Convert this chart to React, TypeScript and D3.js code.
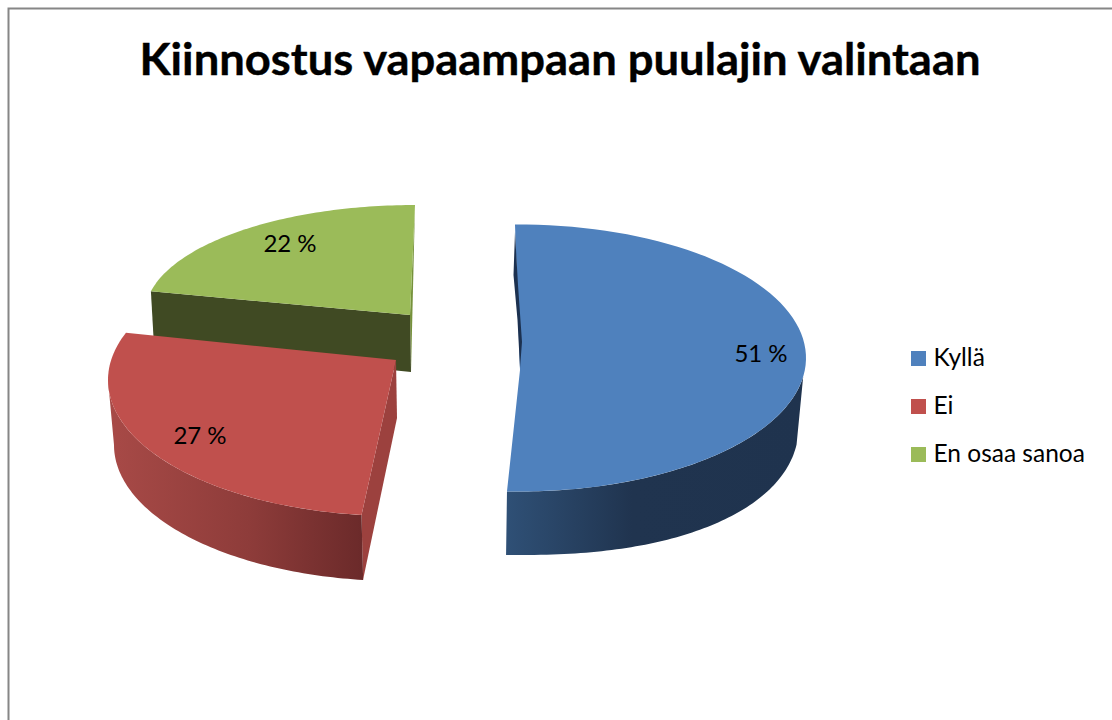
import React from "react";
import * as d3 from "d3";

const categories = ["Kyllä", "Ei", "En osaa sanoa"];
const values = [51, 27, 22];
const chartTitle = "Kiinnostus vapaampaan puulajin valintaan";
const colors = ["#4f81bd", "#c0504d", "#9bbb59"];

type Ell = { cx: number; cy: number; rx: number; ry: number; p?: number };
type Pt = [number, number];

const font = "Lato, 'Noto Sans', sans-serif";
const deg = (d: number) => (d * Math.PI) / 180;
const pow = (v: number, p: number) => Math.sign(v) * Math.pow(Math.abs(v), p);
const onEll = (e: Ell, t: number): Pt => [
  e.cx + e.rx * pow(Math.sin(t), e.p ?? 1),
  e.cy - e.ry * pow(Math.cos(t), e.p ?? 1),
];
const arcPts = (e: Ell, t0: number, t1: number): Pt[] =>
  d3.range(0, 81).map((i) => onEll(e, d3.interpolateNumber(t0, t1)(i / 80)));
const line = d3.line<Pt>().curve(d3.curveLinear);
const closed = (pts: Pt[]) => (line(pts) as string) + "Z";

const pieGen = d3.pie<number>().sort(null);
const arcs = pieGen(values);

// Each exploded wedge has its own projection onto the picture (the original is a perspective 3D pie).
const views = [
  {
    top: { cx: 519, cy: 358, rx: 287, ry: 133.5 },
    low: { cx: 522, cy: 422, rx: 277, ry: 133, p: 0.9 },
    apex: [520, 370] as Pt,
    vis: [-0.8, 182.4],
    sideFrom: 98,
    label: [761, 355] as Pt,
  },
  {
    top: { cx: 397, cy: 380, rx: 289, ry: 136 },
    low: { cx: 398, cy: 445, rx: 284, ry: 136 },
    apex: [396, 360] as Pt,
    vis: [187.05, 290.3],
    sideFrom: 270,
    label: [200, 437] as Pt,
  },
  {
    top: { cx: 415, cy: 314, rx: 270, ry: 109 },
    low: null,
    apex: [410, 315] as Pt,
    vis: [282, 360],
    sideFrom: 0,
    label: [290, 245] as Pt,
  },
];

const wedges = arcs.map((a, i) => {
  const v = views[i];
  const t = d3.scaleLinear().domain([a.startAngle, a.endAngle]).range(v.vis.map(deg));
  const t0 = t(a.startAngle);
  const t1 = t(a.endAngle);
  const pts = arcPts(v.top, t0, t1);
  const top = closed([v.apex, ...pts]);
  let side: string | null = null;
  if (v.low) {
    // side skirt runs along the near part of the rim only
    const [a0, a1] = i === 0 ? [deg(v.sideFrom), t1] : [t0, deg(v.sideFrom)];
    side = closed([...arcPts(v.top, a0, a1), ...arcPts(v.low, a1, a0)]);
  }
  return { top, side, first: pts[0], last: pts[pts.length - 1] };
});

const legendY = d3.scalePoint<string>().domain(categories).range([358.5, 454.5]);

export default function App() {
  const blueWall: Pt[] = [[515, 232], [513.5, 275], [517.5, 320], [520, 368], [522, 342], [518, 285]];
  const redWall: Pt[] = [views[1].apex, wedges[1].first, [363, 580], [397, 418]];
  const greenWall: Pt[] = [wedges[2].first, views[2].apex, [411, 372], [154, 346]];
  const greenEdge: Pt[] = [wedges[2].last, [411, 372], views[2].apex];
  return (
    <svg
      width={1112}
      height={720}
      style={{ position: "absolute", left: 0, top: 0, background: "#fff", display: "block" }}
    >
      <defs>
        <linearGradient id="blueSide" gradientUnits="userSpaceOnUse" x1={506} x2={806} y1={0} y2={0}>
          <stop offset="0" stopColor="#2f5076" />
          <stop offset="0.42" stopColor="#20344f" />
          <stop offset="1" stopColor="#1f334e" />
        </linearGradient>
        <linearGradient id="redSide" gradientUnits="userSpaceOnUse" x1={108} x2={363} y1={0} y2={0}>
          <stop offset="0" stopColor="#a84a47" />
          <stop offset="0.55" stopColor="#8e3c3a" />
          <stop offset="1" stopColor="#6b2a2a" />
        </linearGradient>
      </defs>

      <path d="M1112,8.5H8.5V720" fill="none" stroke="#868686" strokeWidth={2} />

      <text
        x={560}
        y={75}
        textAnchor="middle"
        fontFamily={font}
        fontWeight={700}
        fontSize={44.5}
        textLength={841}
        lengthAdjust="spacingAndGlyphs"
        fill="#000"
        stroke="#000"
        strokeWidth={0.4}
      >
        {chartTitle}
      </text>

      {/* green wedge */}
      <path d={closed(greenEdge)} fill="#76923c" />
      <path d={closed(greenWall)} fill="#404a23" />
      <path d={wedges[2].top} fill={colors[2]} />

      {/* red wedge */}
      <path d={closed(redWall)} fill="#9c413e" />
      <path d={wedges[1].side as string} fill="url(#redSide)" />
      <path d={wedges[1].top} fill={colors[1]} />

      {/* blue wedge */}
      <path d={wedges[0].side as string} fill="url(#blueSide)" />
      <path d={wedges[0].top} fill={colors[0]} />
      <path d={closed(blueWall)} fill="#1c3150" />

      {values.map((v, i) => (
        <text
          key={categories[i]}
          x={views[i].label[0]}
          y={views[i].label[1] + 7}
          textAnchor="middle"
          fontFamily={font}
          fontSize={24}
          fill="#000"
        >
          {`${v} %`}
        </text>
      ))}

      {categories.map((c, i) => (
        <g key={c}>
          <rect x={911} y={(legendY(c) as number) - 7.5} width={15} height={15} fill={colors[i]} />
          <text x={933.5} y={(legendY(c) as number) + 7} fontFamily={font} fontSize={24.5} fill="#000">
            {c}
          </text>
        </g>
      ))}
    </svg>
  );
}
